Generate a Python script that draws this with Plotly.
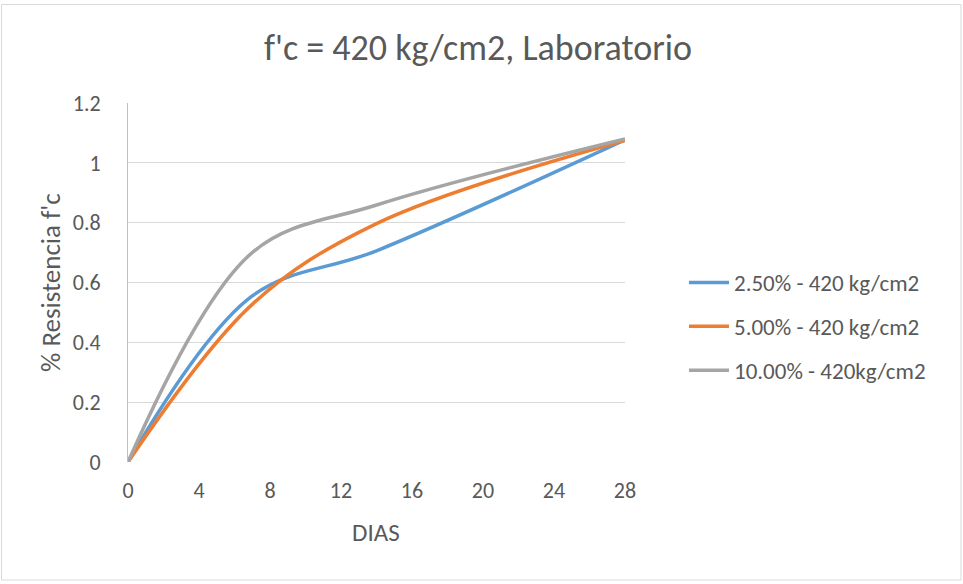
import plotly.graph_objects as go

dias = [0, 7, 14, 28]
serie_25 = [0, 0.555, 0.706, 1.077]
serie_50 = [0, 0.527, 0.797, 1.075]
serie_100 = [0, 0.700, 0.859, 1.080]
nombres = ["2.50% - 420 kg/cm2", "5.00% - 420 kg/cm2", "10.00% - 420kg/cm2"]
colores = ["#5B9BD5", "#ED7D31", "#A5A5A5"]
x_ticks = [0, 4, 8, 12, 16, 20, 24, 28]
y_ticks = [0, 0.2, 0.4, 0.6, 0.8, 1, 1.2]
y_labels = ["0", "0.2", "0.4", "0.6", "0.8", "1", "1.2"]

FONT = "Carlito, Calibri, Lato, sans-serif"
TXT = "#595959"
W, H = 963, 584
L, R, T, B = 128, 625, 103, 462

fig = go.Figure()
for i, (ys, n, c) in enumerate(zip([serie_25, serie_50, serie_100], nombres, colores)):
    fig.add_trace(go.Scatter(x=dias, y=ys, name=n, mode="lines", legendgroup="g%d" % i,
                             line=dict(color=c, width=3.5, shape="spline", smoothing=1.0)))

fig.update_layout(
    width=W, height=H,
    margin=dict(l=L, r=W - R, t=T, b=H - B, pad=0),
    paper_bgcolor="white", plot_bgcolor="white",
    font=dict(family=FONT, size=22, color=TXT),
    showlegend=True,
    legend=dict(x=(684 - L) / (R - L), y=(B - 261) / (B - T), xanchor="left", yanchor="top",
                xref="paper", yref="paper", traceorder="grouped",
                font=dict(size=23, color=TXT), tracegroupgap=11,
                itemwidth=40, bgcolor="rgba(0,0,0,0)"),
    xaxis=dict(range=[0, 28], tickvals=x_ticks, showgrid=False, zeroline=False,
               showline=False, ticks="", ticklen=0, tickfont=dict(size=22, color=TXT)),
    yaxis=dict(range=[0, 1.2], tickvals=y_ticks, ticktext=y_labels, showgrid=True,
               gridcolor="#D9D9D9", gridwidth=1, zeroline=False,
               showline=True, linecolor="#BFBFBF", linewidth=1, ticks="", ticklen=0,
               tickfont=dict(size=22, color=TXT)),
    annotations=[
        dict(text="f'c = 420 kg/cm2, Laboratorio", xref="paper", yref="paper",
             x=(478 - L) / (R - L), y=(B - 48) / (B - T), xanchor="center", yanchor="middle",
             showarrow=False, font=dict(size=36, color=TXT, family=FONT)),
        dict(text="% Resistencia f'c", xref="paper", yref="paper", textangle=-90,
             x=(50 - L) / (R - L), y=(B - 283) / (B - T), xanchor="center", yanchor="middle",
             showarrow=False, font=dict(size=27, color=TXT, family=FONT)),
        dict(text="DIAS", xref="paper", yref="paper",
             x=(376 - L) / (R - L), y=(B - 532) / (B - T), xanchor="center", yanchor="middle",
             showarrow=False, font=dict(size=25, color=TXT, family=FONT)),
    ],
    shapes=[
        dict(type="rect", xref="paper", yref="paper",
             x0=(1.5 - L) / (R - L), x1=(961 - L) / (R - L),
             y0=(B - 580) / (B - T), y1=(B - 4.5) / (B - T),
             line=dict(color="#D9D9D9", width=1), fillcolor="rgba(0,0,0,0)", layer="below"),
    ],
)
fig.update_xaxes(ticklabelstandoff=13)
fig.update_yaxes(ticklabelstandoff=22)
fig.write_html("out.html")
